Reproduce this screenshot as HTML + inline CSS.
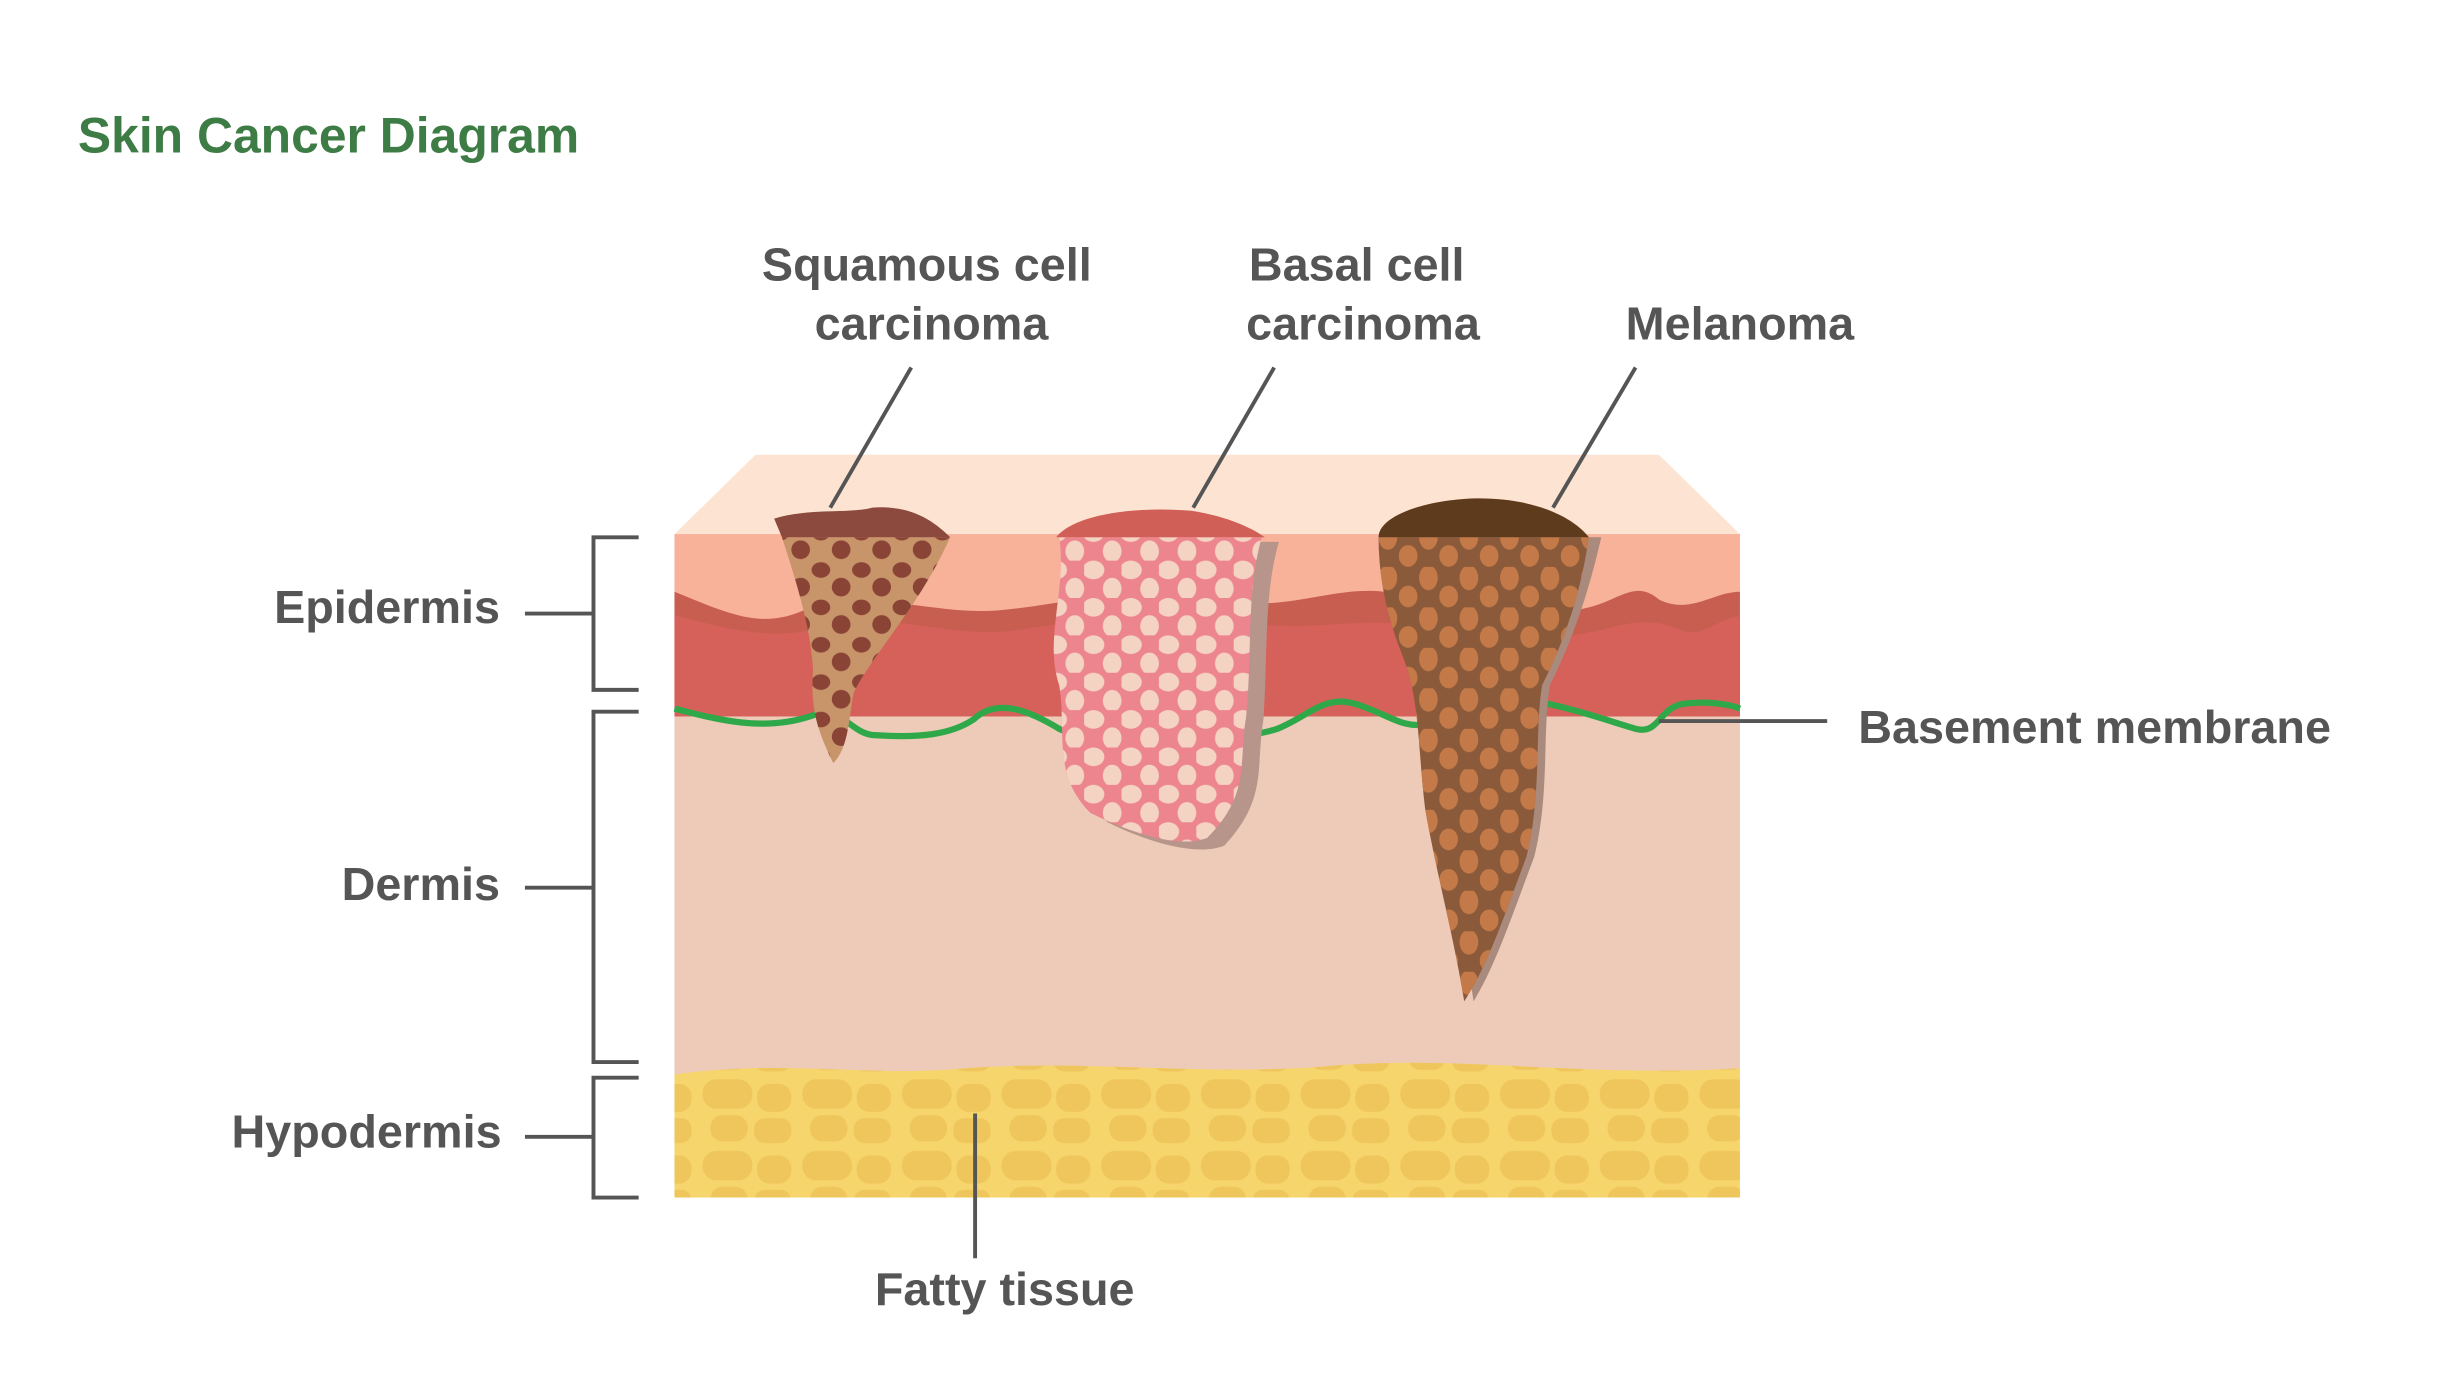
<!DOCTYPE html>
<html><head><meta charset="utf-8"><style>
html,body{margin:0;padding:0;background:#fff;}
svg{display:block;}
text{font-family:"Liberation Sans",sans-serif;font-weight:bold;}
</style></head><body>
<svg width="2444" height="1400" viewBox="0 0 1569 899" preserveAspectRatio="none" xmlns="http://www.w3.org/2000/svg">
<defs>
<pattern id="sq" width="26" height="24" patternUnits="userSpaceOnUse">
<ellipse cx="7" cy="6" rx="6" ry="5" fill="#8a4436"/><ellipse cx="20" cy="17" rx="6" ry="6" fill="#8a4436"/>
</pattern>
<pattern id="bs" width="24" height="24" patternUnits="userSpaceOnUse">
<ellipse cx="6" cy="6" rx="7" ry="6" fill="#f4d3c3"/><ellipse cx="18" cy="18" rx="6" ry="7" fill="#f4d3c3"/>
</pattern>
<pattern id="ml" width="26" height="26" patternUnits="userSpaceOnUse">
<ellipse cx="7" cy="7" rx="6" ry="8" fill="#c47a48"/><ellipse cx="20" cy="19" rx="6" ry="7" fill="#c47a48"/>
</pattern>
<pattern id="fat" width="64" height="46" patternUnits="userSpaceOnUse">
<rect x="3" y="3" width="32" height="19" rx="9" fill="#efc65c"/>
<rect x="38" y="6" width="22" height="18" rx="8" fill="#efc65c"/>
<rect x="8" y="26" width="24" height="17" rx="8" fill="#efc65c"/>
<rect x="36" y="28" width="24" height="16" rx="7" fill="#efc65c"/>
</pattern>
</defs>

<text x="50" y="98" font-size="32" fill="#3e7c46">Skin Cancer Diagram</text>

<polygon points="433,343 485,292 1065,292 1117,343" fill="#fde4d2"/>
<rect x="433" y="343" width="684" height="350" fill="#edcbb8"/>
<path d="M433,343 H1117 V460 L433,455 Z" fill="#f8b29a"/>
<path d="M433,380 C470,395 490,405 520,390 C560,378 600,395 640,392 C690,388 730,372 780,385 C830,395 860,372 900,382 C940,392 980,400 1020,390 C1040,385 1050,372 1065,385 C1085,395 1100,380 1117,380 V460 H433 Z" fill="#c75e4f"/>
<path d="M433,395 C470,405 500,412 530,402 C570,392 610,410 650,405 C700,398 740,388 790,398 C840,408 870,395 910,402 C950,410 990,414 1030,404 C1050,398 1065,398 1080,405 C1095,410 1105,395 1117,396 V460 H433 Z" fill="#d6615a"/>
<path d="M433,690 C500,680 560,692 620,686 C700,680 780,692 860,684 C940,678 1020,692 1117,686 V769 H433 Z" fill="#f6d56c"/>
<path d="M433,690 C500,680 560,692 620,686 C700,680 780,692 860,684 C940,678 1020,692 1117,686 V769 H433 Z" fill="url(#fat)"/>
<path d="M433,455 C460,462 490,470 520,460 C540,452 545,470 560,472 C590,474 610,472 625,462 C640,448 660,456 680,468 C700,478 790,478 820,468 C840,460 850,446 870,452 C890,458 900,468 915,465 C940,460 960,445 985,450 C1010,455 1030,462 1050,468 C1065,472 1065,455 1080,452 C1095,450 1110,452 1117,455" fill="none" stroke="#2fa84a" stroke-width="4"/>

<path d="M502,345 C510,370 520,400 522,430 C520,455 525,470 535,490 C545,480 545,460 548,445 C560,420 590,390 610,345 Z" fill="#c8946a"/>
<path d="M502,345 C510,370 520,400 522,430 C520,455 525,470 535,490 C545,480 545,460 548,445 C560,420 590,390 610,345 Z" fill="url(#sq)"/>
<path d="M497,333 C520,326 545,330 560,326 C585,324 600,335 610,345 H502 Z" fill="#8b4a3d"/>

<path d="M686,345 H815 C805,380 808,420 805,460 C800,490 808,510 780,540 C760,548 725,535 705,525 C680,500 690,470 685,440 C675,410 690,380 686,345 Z" fill="#b7958a" transform="translate(6,3)"/>
<path d="M680,345 H810 C800,380 804,420 800,460 C795,490 803,510 775,538 C755,546 720,532 700,522 C675,497 685,470 680,440 C670,410 685,380 680,345 Z" fill="#ed858f"/>
<path d="M680,345 H810 C800,380 804,420 800,460 C795,490 803,510 775,538 C755,546 720,532 700,522 C675,497 685,470 680,440 C670,410 685,380 680,345 Z" fill="url(#bs)"/>
<path d="M678,345 C690,330 730,325 765,328 C790,332 805,340 812,345 Z" fill="#d05f57"/>

<path d="M892,345 H1028 C1020,380 1010,410 995,440 C990,470 995,510 985,550 C970,590 960,620 946,643 C940,600 928,560 920,520 C915,480 918,450 905,420 C895,395 892,370 892,345 Z" fill="#a98a7c"/>
<path d="M885,345 H1020 C1015,380 1005,410 990,440 C985,470 990,510 980,550 C965,590 955,620 940,643 C933,600 922,560 915,520 C910,480 912,450 900,420 C890,395 885,370 885,345 Z" fill="#8b5a3a"/>
<path d="M885,345 H1020 C1015,380 1005,410 990,440 C985,470 990,510 980,550 C965,590 955,620 940,643 C933,600 922,560 915,520 C910,480 912,450 900,420 C890,395 885,370 885,345 Z" fill="url(#ml)"/>
<path d="M885,345 C885,330 920,320 950,320 C985,320 1010,332 1020,345 Z" fill="#5e3b1d"/>

<g stroke="#555" stroke-width="2.5" fill="none">
<line x1="585" y1="236" x2="533" y2="326"/>
<line x1="818" y1="236" x2="766" y2="326"/>
<line x1="1050" y1="236" x2="997" y2="326"/>
<line x1="1065" y1="463" x2="1173" y2="463"/>
<line x1="626" y1="715" x2="626" y2="808"/>
<path d="M410,345 H381 V443 H410 M337,394 H381"/>
<path d="M410,457 H381 V682 H410 M337,570 H381"/>
<path d="M410,692 H381 V769 H410 M337,730 H381"/>
</g>

<g font-size="30" fill="#555">
<text x="595" y="180" text-anchor="middle">Squamous cell</text>
<text x="598" y="218" text-anchor="middle">carcinoma</text>
<text x="871" y="180" text-anchor="middle">Basal cell</text>
<text x="875" y="218" text-anchor="middle">carcinoma</text>
<text x="1117" y="218" text-anchor="middle">Melanoma</text>
<text x="321" y="400" text-anchor="end">Epidermis</text>
<text x="321" y="578" text-anchor="end">Dermis</text>
<text x="322" y="737" text-anchor="end">Hypodermis</text>
<text x="1193" y="477">Basement membrane</text>
<text x="645" y="838" text-anchor="middle">Fatty tissue</text>
</g>
</svg>
</body></html>
